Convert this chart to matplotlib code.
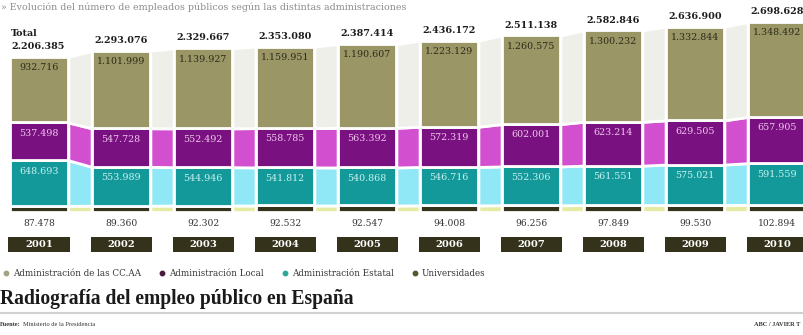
import matplotlib
matplotlib.use("Agg")
import matplotlib.pyplot as plt
from matplotlib.lines import Line2D

# Public employees in Spain by administration level, 2001-2010
years = ["2001", "2002", "2003", "2004", "2005", "2006", "2007", "2008", "2009", "2010"]
totals = [2206385, 2293076, 2329667, 2353080, 2387414, 2436172, 2511138, 2582846, 2636900, 2698628]
ccaa = [932716, 1101999, 1139927, 1159951, 1190607, 1223129, 1260575, 1300232, 1332844, 1348492]
local = [537498, 547728, 552492, 558785, 563392, 572319, 602001, 623214, 629505, 657905]
estatal = [648693, 553989, 544946, 541812, 540868, 546716, 552306, 561551, 575021, 591559]
univ = [87478, 89360, 92302, 92532, 92547, 94008, 96256, 97849, 99530, 102894]

series_names = ["Administración de las CC.AA", "Administración Local",
                "Administración Estatal", "Universidades"]

W, H, DPI = 804, 335, 100
SCALE = 70.3e-6        # pixels per employee
BASE_PX = 212          # baseline (pixels from top)
CX0, STEP = 39, 82     # first bar centre and spacing (pixels)

bar_col = {"ccaa": "#9b9666", "local": "#7a1180", "estatal": "#14999b", "univ": "#35331c"}
link_col = {"ccaa": "#eeefe8", "local": "#d24fd0", "estatal": "#90e8f6", "univ": "#e4eba2"}
lab_col = {"ccaa": "#2b2b18", "local": "#f2c8f0", "estatal": "#c9f3f2"}
legend_col = ["#a4a387", "#4b1a3f", "#2fa798", "#4f5a2e"]

NUM = "DejaVu Serif"
TXT = "Liberation Serif"


def fmt(v):
    return f"{v:,}".replace(",", ".")


fig = plt.figure(figsize=(W / DPI, H / DPI), dpi=DPI)
fig.patch.set_facecolor("white")
ax = fig.add_axes([0, 0, 1, 1])
ax.set_xlim(-CX0 / STEP, (W - CX0) / STEP)
ax.set_ylim(-(H - BASE_PX) / SCALE, BASE_PX / SCALE)
ax.axis("off")

x = list(range(len(years)))
bw = (56 + 2.8) / STEP

# stacked layers from bottom to top
layers = [("univ", univ), ("estatal", estatal), ("local", local), ("ccaa", ccaa)]
bottoms = {}
acc = [0] * len(years)
for key, vals in layers:
    bottoms[key] = list(acc)
    acc = [a + v for a, v in zip(acc, vals)]

# connecting bands between consecutive bars
for key, vals in layers:
    b = bottoms[key]
    t = [bb + v for bb, v in zip(b, vals)]
    for i in range(len(years) - 1):
        xs = [i + bw / 2, i + 1 - bw / 2]
        ax.fill_between(xs, [b[i], b[i + 1]], [t[i], t[i + 1]],
                        facecolor=link_col[key], edgecolor="white", linewidth=2, zorder=1)

# bars
for key, vals in layers:
    ax.bar(x, vals, bottom=bottoms[key], width=bw, color=bar_col[key],
           edgecolor="white", linewidth=2, zorder=2)

# values inside segments
for key, vals in layers[1:]:
    for i, v in enumerate(vals):
        top = bottoms[key][i] + v
        ax.annotate(fmt(v), (i, top), xytext=(0, -7.8), textcoords="offset points",
                    ha="center", va="center", fontsize=6.8, family=NUM,
                    color=lab_col[key], zorder=3)

# totals above the bars
for i, v in enumerate(totals):
    top = bottoms["ccaa"][i] + ccaa[i]
    if i == 0:
        ax.annotate(fmt(v), (i - bw / 2 + 0.02, top), xytext=(0, 7.5),
                    textcoords="offset points", ha="left", va="center",
                    fontsize=6.9, family=NUM, weight="bold", color="#1c1c1c")
        ax.annotate("Total", (i - bw / 2 + 0.02, top), xytext=(0, 17),
                    textcoords="offset points", ha="left", va="center",
                    fontsize=6.9, family=NUM, weight="bold", color="#1c1c1c")
    else:
        ax.annotate(fmt(v), (i, top), xytext=(0, 7.5), textcoords="offset points",
                    ha="center", va="center", fontsize=6.9, family=NUM,
                    weight="bold", color="#1c1c1c")

# university counts below the baseline
for i, v in enumerate(univ):
    ax.annotate(fmt(v), (i, 0), xytext=(0, -8), textcoords="offset points",
                ha="center", va="center", fontsize=6.6, family=NUM, color="#333333")

# year tags
tag_h = 15 / SCALE
tag_bottom = -(252 - BASE_PX) / SCALE
ax.bar(x, [tag_h] * len(x), bottom=tag_bottom, width=61 / STEP,
       color="#34321a", linewidth=0, zorder=2)
for i, y in enumerate(years):
    ax.text(i, tag_bottom + tag_h / 2, y, ha="center", va="center",
            fontsize=7.2, family=NUM, weight="bold", color="white", zorder=3)

# subtitle
fig.text(1 / W, 1 - 7 / H,
         "» Evolución del número de empleados públicos según las distintas administraciones",
         ha="left", va="center", fontsize=6.85, family=NUM, color="#8c8c8c")

# legend
handles = [Line2D([], [], marker="o", linestyle="none", markersize=3.2,
                  markerfacecolor=c, markeredgecolor=c) for c in legend_col]
fig.legend(handles, series_names, loc="center left", bbox_to_anchor=(0.002, 1 - 274 / H),
           ncol=4, frameon=False, handletextpad=0.3, columnspacing=1.9,
           handlelength=1.0, borderaxespad=0, borderpad=0,
           prop={"family": NUM, "size": 6.3}, labelcolor="#333333")

# headline, rule and credits
fig.text(0, 1 - 299 / H, "Radiografía del empleo público en España", ha="left",
         va="center", fontsize=14.1, family=TXT, weight="bold", color="#1a1a1a")
fig.add_artist(Line2D([0, 1], [1 - 313 / H] * 2, color="#d0d0d0", linewidth=1.5))
src = fig.text(0, 1 - 325 / H, "Fuente:", ha="left", va="center", fontsize=4.6,
               family=TXT, weight="bold", color="#333333")
ax.annotate("Ministerio de la Presidencia", xy=(1, 0.5), xycoords=src,
            xytext=(1.5, 0), textcoords="offset points", ha="left", va="center",
            fontsize=4.6, family=TXT, color="#333333", annotation_clip=False)
fig.text(754 / W, 1 - 325 / H, "ABC / JAVIER T", ha="left", va="center", fontsize=4.6,
         family=TXT, weight="bold", color="#333333")

fig.savefig("out.png", dpi=DPI, facecolor="white")
